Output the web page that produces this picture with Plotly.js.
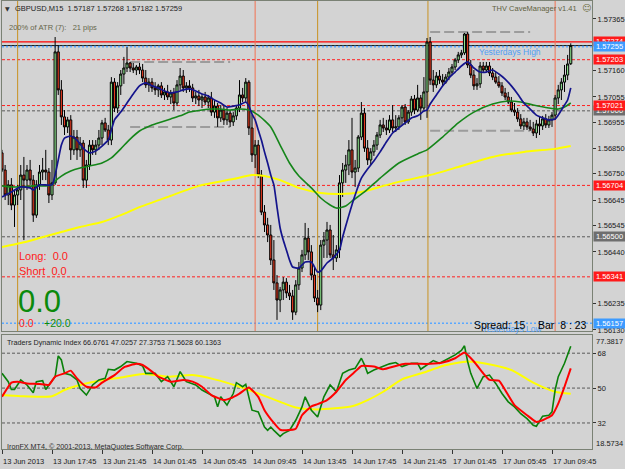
<!DOCTYPE html>
<html><head><meta charset="utf-8">
<script src="https://cdn.plot.ly/plotly-3.0.1.min.js"></script>
<style>html,body{margin:0;padding:0;background:#d3d3d3;}#chart{width:625px;height:469px;}</style>
</head><body><div id="chart"></div>
<script>
// ---------- DATA ----------
const symbol = "GBPUSD,M15";
const openP = [1.56833,1.56765,1.56666,1.56706,1.56626,1.56666,1.56686,1.56745,1.56725,1.56765,
1.56725,1.56586,1.56706,1.56757,1.56765,1.56757,1.56666,1.56714,1.57234,1.57083,
1.56976,1.56936,1.56964,1.56845,1.56896,1.56845,1.56872,1.56725,1.56785,1.56864,
1.56845,1.56864,1.56892,1.56952,1.56924,1.56884,1.57114,1.57011,1.57099,1.57146,
1.57170,1.57190,1.57170,1.57162,1.57174,1.57162,1.57130,1.57103,1.57114,1.57091,
1.57083,1.57099,1.57063,1.57075,1.57055,1.57071,1.57031,1.57103,1.57138,1.57091,
1.57099,1.57091,1.57051,1.57059,1.57043,1.57055,1.57035,1.57051,1.56995,1.57019,
1.56972,1.57003,1.56964,1.56991,1.56956,1.56980,1.57011,1.57063,1.57051,1.57114,
1.56932,1.56825,1.56864,1.56745,1.56598,1.56547,1.56507,1.56408,1.56317,1.56249,
1.56289,1.56320,1.56277,1.56265,1.56201,1.56309,1.56376,1.56428,1.56495,1.56440,
1.56348,1.56257,1.56229,1.56467,1.56487,1.56527,1.56428,1.56416,1.56448,1.56714,
1.56765,1.56785,1.56845,1.56757,1.56773,1.56896,1.56991,1.56852,1.56805,1.56837,
1.56864,1.56904,1.56944,1.56932,1.56924,1.56964,1.56932,1.56936,1.56972,1.57015,
1.56956,1.56995,1.57047,1.57003,1.57051,1.57011,1.57075,1.57273,1.57122,1.57103,
1.57138,1.57122,1.57114,1.57134,1.57154,1.57174,1.57202,1.57222,1.57230,1.57305,
1.57182,1.57142,1.57099,1.57107,1.57178,1.57162,1.57178,1.57150,1.57134,1.57114,
1.57099,1.57071,1.57055,1.57035,1.57003,1.56995,1.56968,1.56940,1.56956,1.56936,
1.56928,1.56912,1.56948,1.56940,1.56968,1.56944,1.56964,1.56983,1.57051,1.57083,
1.57114,1.57142,1.57187];
const highP = [1.56845,1.56785,1.56725,1.56733,1.56686,1.56706,1.56785,1.56817,1.56785,1.56805,
1.56745,1.56725,1.56785,1.56813,1.56845,1.56773,1.56805,1.57293,1.57261,1.57122,
1.57003,1.56976,1.56983,1.56924,1.56924,1.56896,1.56884,1.56805,1.56884,1.56884,
1.56884,1.56924,1.56964,1.56972,1.56944,1.57134,1.57130,1.57114,1.57162,1.57214,
1.57253,1.57194,1.57190,1.57182,1.57190,1.57186,1.57162,1.57130,1.57130,1.57114,
1.57107,1.57114,1.57091,1.57103,1.57083,1.57091,1.57122,1.57170,1.57162,1.57114,
1.57122,1.57107,1.57075,1.57083,1.57067,1.57075,1.57063,1.57075,1.57043,1.57031,
1.57023,1.57023,1.57011,1.57003,1.56995,1.57023,1.57122,1.57091,1.57130,1.57122,
1.56983,1.56884,1.56884,1.56765,1.56626,1.56575,1.56547,1.56487,1.56348,1.56301,
1.56340,1.56336,1.56309,1.56289,1.56328,1.56400,1.56448,1.56555,1.56535,1.56467,
1.56376,1.56289,1.56487,1.56519,1.56559,1.56547,1.56507,1.56467,1.56745,1.56793,
1.56825,1.56884,1.56972,1.56805,1.56904,1.57035,1.57011,1.56884,1.56852,1.56884,
1.56916,1.56964,1.56972,1.56964,1.56983,1.57023,1.56983,1.56983,1.57023,1.57027,
1.57003,1.57059,1.57063,1.57103,1.57063,1.57134,1.57289,1.57293,1.57162,1.57154,
1.57162,1.57146,1.57146,1.57170,1.57186,1.57210,1.57234,1.57242,1.57309,1.57313,
1.57202,1.57162,1.57130,1.57194,1.57194,1.57194,1.57194,1.57170,1.57154,1.57138,
1.57114,1.57091,1.57075,1.57055,1.57031,1.57011,1.56987,1.56972,1.56972,1.56964,
1.56956,1.56964,1.56976,1.56980,1.56987,1.56980,1.56995,1.57063,1.57103,1.57130,
1.57182,1.57222,1.57268];
const lowP = [1.56757,1.56646,1.56626,1.56606,1.56539,1.56626,1.56646,1.56487,1.56686,1.56706,
1.56559,1.56575,1.56686,1.56725,1.56725,1.56634,1.56646,1.56706,1.57063,1.56944,
1.56904,1.56912,1.56805,1.56825,1.56805,1.56817,1.56694,1.56694,1.56765,1.56825,
1.56825,1.56845,1.56864,1.56916,1.56864,1.56864,1.56995,1.56991,1.57063,1.57107,
1.57154,1.57154,1.57150,1.57142,1.57146,1.57114,1.57091,1.57075,1.57075,1.57063,
1.57055,1.57051,1.57043,1.57043,1.57027,1.57003,1.57019,1.57083,1.57075,1.57071,
1.57075,1.57035,1.57027,1.57019,1.57011,1.57023,1.57011,1.56980,1.56972,1.56936,
1.56956,1.56944,1.56944,1.56936,1.56940,1.56964,1.56995,1.57035,1.57031,1.56904,
1.56797,1.56773,1.56733,1.56586,1.56519,1.56479,1.56388,1.56289,1.56170,1.56201,
1.56249,1.56257,1.56249,1.56170,1.56189,1.56289,1.56360,1.56408,1.56408,1.56328,
1.56241,1.56201,1.56209,1.56416,1.56416,1.56416,1.56368,1.56400,1.56416,1.56658,
1.56714,1.56745,1.56733,1.56698,1.56757,1.56884,1.56837,1.56785,1.56785,1.56821,
1.56845,1.56892,1.56916,1.56904,1.56912,1.56916,1.56916,1.56924,1.56944,1.56944,
1.56948,1.56980,1.56987,1.56995,1.56964,1.57003,1.56972,1.57103,1.57075,1.57091,
1.57107,1.57099,1.57107,1.57122,1.57142,1.57162,1.57190,1.57210,1.57222,1.57170,
1.57130,1.57083,1.57083,1.57091,1.57154,1.57154,1.57138,1.57122,1.57107,1.57091,
1.57059,1.57043,1.57027,1.56995,1.56980,1.56956,1.56928,1.56924,1.56924,1.56920,
1.56900,1.56892,1.56904,1.56924,1.56932,1.56932,1.56936,1.56964,1.57027,1.57043,
1.57075,1.57122,1.57182];
const closeP = [1.56765,1.56666,1.56706,1.56626,1.56666,1.56686,1.56745,1.56725,1.56765,1.56725,
1.56586,1.56706,1.56757,1.56765,1.56757,1.56666,1.56714,1.57234,1.57083,1.56976,
1.56936,1.56964,1.56845,1.56896,1.56845,1.56872,1.56725,1.56785,1.56864,1.56845,
1.56864,1.56892,1.56952,1.56924,1.56884,1.57114,1.57011,1.57099,1.57146,1.57170,
1.57190,1.57170,1.57162,1.57174,1.57162,1.57130,1.57103,1.57114,1.57091,1.57083,
1.57099,1.57063,1.57075,1.57055,1.57071,1.57031,1.57103,1.57138,1.57091,1.57099,
1.57091,1.57051,1.57059,1.57043,1.57055,1.57035,1.57051,1.56995,1.57019,1.56972,
1.57003,1.56964,1.56991,1.56956,1.56980,1.57011,1.57063,1.57051,1.57114,1.56932,
1.56825,1.56864,1.56745,1.56598,1.56547,1.56507,1.56408,1.56317,1.56249,1.56289,
1.56320,1.56277,1.56265,1.56201,1.56309,1.56376,1.56428,1.56495,1.56440,1.56348,
1.56257,1.56229,1.56467,1.56487,1.56527,1.56428,1.56416,1.56448,1.56714,1.56765,
1.56785,1.56845,1.56757,1.56773,1.56896,1.56991,1.56852,1.56805,1.56837,1.56864,
1.56904,1.56944,1.56932,1.56924,1.56964,1.56932,1.56936,1.56972,1.57015,1.56956,
1.56995,1.57047,1.57003,1.57051,1.57011,1.57075,1.57273,1.57122,1.57103,1.57138,
1.57122,1.57114,1.57134,1.57154,1.57174,1.57202,1.57222,1.57230,1.57305,1.57182,
1.57142,1.57099,1.57107,1.57178,1.57162,1.57178,1.57150,1.57134,1.57114,1.57099,
1.57071,1.57055,1.57035,1.57003,1.56995,1.56968,1.56940,1.56956,1.56936,1.56928,
1.56912,1.56948,1.56940,1.56968,1.56944,1.56964,1.56983,1.57051,1.57083,1.57114,
1.57142,1.57186,1.57259];

// moving averages (bar index, price)
const blueIdx = [0,3,6,9,10,12,16,17,18,19,20,22,24,26,28,30,32,34,36,38,40,42,44,46,48,50,52,54,56,58,60,62,64,66,68,70,72,74,76,78,79,80,81,82,83,84,85,86,87,88,89,90,91,92,93,95,97,99,101,102,104,106,108,109,111,113,115,117,119,121,123,125,127,129,131,133,135,136,137,139,141,143,145,147,149,151,153,155,157,159,161,163,165,167,169,171,173,175,177,178,180,181,182];
const blueVal = [1.56658,1.56678,1.56698,1.56694,1.56686,1.56706,1.56706,1.56745,1.56805,1.56864,1.56892,1.56900,1.56884,1.56852,1.56833,1.56841,1.56860,1.56884,1.56964,1.56995,1.57031,1.57067,1.57099,1.57111,1.57099,1.57091,1.57079,1.57071,1.57075,1.57083,1.57087,1.57079,1.57067,1.57059,1.57043,1.57031,1.57015,1.57019,1.57023,1.57035,1.57019,1.56987,1.56964,1.56924,1.56884,1.56837,1.56793,1.56745,1.56706,1.56618,1.56535,1.56487,1.56448,1.56408,1.56380,1.56376,1.56400,1.56400,1.56360,1.56364,1.56396,1.56416,1.56448,1.56499,1.56586,1.56666,1.56733,1.56769,1.56801,1.56837,1.56876,1.56912,1.56932,1.56952,1.56972,1.56980,1.56999,1.57003,1.57027,1.57063,1.57099,1.57130,1.57154,1.57178,1.57194,1.57170,1.57154,1.57154,1.57162,1.57146,1.57126,1.57099,1.57067,1.57031,1.57007,1.56983,1.56972,1.56964,1.56968,1.56983,1.57023,1.57043,1.57091];
const greenIdx = [0,3,6,10,14,16,17,19,22,25,28,32,35,38,41,44,48,51,54,57,60,64,67,70,73,76,79,82,86,89,92,95,99,102,105,107,110,112,116,121,127,133,136,141,146,151,157,162,166,170,175,178,180,182];
const greenVal = [1.56702,1.56698,1.56698,1.56702,1.56702,1.56706,1.56721,1.56741,1.56761,1.56773,1.56781,1.56793,1.56813,1.56849,1.56888,1.56920,1.56944,1.56956,1.56968,1.56980,1.56995,1.57003,1.57007,1.57007,1.57003,1.57007,1.57003,1.56983,1.56936,1.56864,1.56793,1.56741,1.56694,1.56654,1.56626,1.56614,1.56622,1.56642,1.56678,1.56733,1.56793,1.56829,1.56845,1.56896,1.56952,1.56995,1.57027,1.57039,1.57035,1.57023,1.57011,1.57007,1.57015,1.57031];
const yellowIdx = [0,6,12,19,25,32,38,44,53,63,74,80,84,89,95,102,108,115,122,128,137,146,157,167,177,182];
const yellowVal = [1.56459,1.56475,1.56495,1.56519,1.56539,1.56559,1.56586,1.56618,1.56658,1.56702,1.56729,1.56745,1.56741,1.56725,1.56694,1.56674,1.56670,1.56678,1.56702,1.56721,1.56745,1.56777,1.56817,1.56837,1.56849,1.56860];

// Traders Dynamic Index
const tdiGreenIdx = [0,2,3,4,6,8,10,11,13,14,15,17,18,19,20,22,24,25,27,29,31,33,34,36,38,40,43,45,46,49,51,53,55,57,59,62,64,66,68,69,70,72,74,75,77,78,80,82,84,85,86,87,89,90,92,94,96,97,99,101,103,105,107,109,111,113,115,116,117,119,122,124,126,128,131,133,134,136,138,140,142,145,147,148,149,150,152,154,156,158,160,162,164,166,168,170,171,173,175,176,177,178,180,182];
const tdiGreenVal = [57.6,53.3,49.3,49.3,54.2,51.6,47.6,53.3,53.8,49.3,51.6,55.9,66.6,64.5,57.6,56.7,54.2,49.8,46.4,51.6,54.2,55,59.7,59.3,61.1,63.7,62.8,61.4,57.6,57.6,53.3,55.9,50.7,58.5,53.3,51.6,49,47.2,45.5,40.3,45.5,41.2,47.2,52.8,50.7,51.9,38.6,37.7,29.9,28.2,29.9,28.2,25.1,26.5,28.2,33.4,40.3,45.5,38.6,35.1,45.5,51.6,48.1,57.6,59.3,60.2,65.4,62,57.6,59.3,61.1,62.5,63.2,61.1,62.8,62.8,59.7,62,64.2,62.8,64.5,67.1,69.4,71.8,63.7,57.6,49.8,55.9,56.7,52.4,47.2,42.9,40.3,36.8,34.2,30.8,30.3,35.5,36,37.7,49,55.9,62.8,71.5628];
const tdiRedIdx = [0,3,5,8,12,15,17,20,22,24,27,30,32,36,39,43,45,48,50,54,58,61,64,67,71,73,76,79,82,84,87,89,91,94,96,99,101,104,107,110,113,115,119,122,126,129,133,137,141,145,148,151,154,156,159,161,164,168,171,173,176,178,180,182];
const tdiRedVal = [45.5,52.8,53.3,52.4,52.1,51.6,55.9,57.6,59,55,50.7,50.3,52.8,56.7,60.7,62.5,61.9,58.5,55.9,53.3,54.2,53.3,50.7,46.4,43.8,44.7,47.2,50.3,45.5,38.6,32,28.5,28.2,29,36,40.6,41.7,43.8,48.1,54.2,58.5,61.4,61.1,59.7,61.4,62.5,62.5,62.5,63.2,65.4,68.3,63.7,57.6,54.2,53.8,49,41.2,36,32.5,33.4,36,42,50.7,60.1363];
const tdiYellowIdx = [0,6,16,20,25,31,38,45,53,61,68,76,82,89,94,101,112,117,122,128,135,141,149,155,163,170,177,182];
const tdiYellowVal = [46.4,45.8,45.8,49,51.6,53.8,55.5,57.3,55.9,56.7,54.5,50.7,47.2,42.9,40,39,40.6,43.8,48.1,54.5,58,61.4,63.7,62.5,59.3,52.8,48.1,47.0257];
const tdiHeaderVals = ["66.6761","47.0257","27.3753","71.5628","60.1363"];
const tdiLevels = [68, 50, 32];
const tdiRange = [18.5734, 77.3817];

// axis ticks
const priceTicks = [1.57365,1.57160,1.57055,1.56955,1.56850,1.56750,1.56645,1.56545,1.56440,1.56235,1.56130];
const priceRange = [1.56126, 1.57436];
const timeTickIdx = [0,16,32,48,64,80,96,112,128,144,160,176];
const timeTickText = ["13 Jun 2013","13 Jun 17:45","13 Jun 21:45","14 Jun 01:45","14 Jun 05:45","14 Jun 09:45","14 Jun 13:45","14 Jun 17:45","14 Jun 21:45","17 Jun 01:45","17 Jun 05:45","17 Jun 09:45"];

// price levels / objects
const labelPrices = [1.57274,1.57255,1.57203,1.57000,1.57021,1.56704,1.56500,1.56341,1.56157];
const labelColors = ["#ff1a1a","#3d9bff","#ff1a1a","#6e6e6e","#ff1a1a","#ff1a1a","#6e6e6e","#ff1a1a","#3d9bff"];
const redSolidLevel = 1.57274;
const bidLevel = 1.57259;
const blueDotLevels = [1.57255, 1.56157];
const redDashLevels = [1.57203, 1.57021, 1.56704, 1.56341];
const grayDashLevels = [1.57000, 1.56500];
const sessionBoxes = [ {from:41, to:73, top:1.57194, bottom:1.56936}, {from:137, to:169, top:1.57313, bottom:1.56921} ];
const goldVLines = [5, 101, 136.3];
const orangeVLines = [81, 177];

// ---------- LAYOUT HELPERS ----------
const W=625, H=469, ML=2, MR=33, MT=1, MB=20;
const plotW = W-ML-MR, plotH = H-MT-MB;
const px = x => (x-ML)/plotW;
const py = y => (H-MB-y)/plotH;
const FONT = "Liberation Sans, Arial, sans-serif";
const nb = s => s.replace(/ /g, "\u00a0");

const bars = openP.map((_, i) => i);
const last = bars.length - 1;

const traces = [
  {type:"candlestick", x:bars, open:openP, high:highP, low:lowP, close:closeP,
   xaxis:"x", yaxis:"y", whiskerwidth:0, hoverinfo:"skip", showlegend:false,
   increasing:{line:{color:"#000000", width:1}, fillcolor:"#8ee68e"},
   decreasing:{line:{color:"#000000", width:1}, fillcolor:"#e3391f"}},
  {type:"scatter", mode:"lines", x:yellowIdx, y:yellowVal, xaxis:"x", yaxis:"y",
   line:{color:"#ffff00", width:2, shape:"spline", smoothing:0.6}, hoverinfo:"skip", showlegend:false},
  {type:"scatter", mode:"lines", x:greenIdx, y:greenVal, xaxis:"x", yaxis:"y",
   line:{color:"#15861a", width:1.6, shape:"spline", smoothing:0.6}, hoverinfo:"skip", showlegend:false},
  {type:"scatter", mode:"lines", x:blueIdx, y:blueVal, xaxis:"x", yaxis:"y",
   line:{color:"#14148c", width:1.7, shape:"spline", smoothing:0.5}, hoverinfo:"skip", showlegend:false},
  {type:"scatter", mode:"lines", x:tdiYellowIdx, y:tdiYellowVal, xaxis:"x2", yaxis:"y2",
   line:{color:"#ffff00", width:2, shape:"spline", smoothing:0.6}, hoverinfo:"skip", showlegend:false},
  {type:"scatter", mode:"lines", x:tdiGreenIdx, y:tdiGreenVal, xaxis:"x2", yaxis:"y2",
   line:{color:"#0a800a", width:1.6}, hoverinfo:"skip", showlegend:false},
  {type:"scatter", mode:"lines", x:tdiRedIdx, y:tdiRedVal, xaxis:"x2", yaxis:"y2",
   line:{color:"#ff0000", width:2, shape:"spline", smoothing:0.4}, hoverinfo:"skip", showlegend:false}
];

const shapes = [];
const hline = (lvl, color, dash, width, yref) => shapes.push({type:"line", xref:"paper", x0:0, x1:1, yref:yref||"y", y0:lvl, y1:lvl, layer:"below", line:{color:color, width:width, dash:dash}});
redDashLevels.forEach(l => hline(l, "#ff2020", "3px,2px", 1));
grayDashLevels.forEach(l => hline(l, "#5a5a5a", "3px,2px", 1));
hline(redSolidLevel, "#ff0000", "solid", 1.2);
hline(bidLevel, "#101010", "solid", 1);
blueDotLevels.forEach(l => hline(l, "#5aa8ff", "2px,2px", 1.6));
tdiLevels.forEach(l => hline(l, "#5a5a5a", "3px,2px", 1, "y2"));
sessionBoxes.forEach(b => {
  [b.top, b.bottom].forEach(v => shapes.push({type:"line", xref:"x", x0:b.from, x1:b.to, yref:"y", y0:v, y1:v, layer:"below", line:{color:"#9c9c9c", width:2, dash:"10px,4px"}}));
});
goldVLines.forEach(v => shapes.push({type:"line", xref:"x", x0:v, x1:v, yref:"y domain", y0:0, y1:1, layer:"below", line:{color:"#c89222", width:1}}));
orangeVLines.forEach(v => shapes.push({type:"line", xref:"x", x0:v, x1:v, yref:"y domain", y0:0, y1:1, layer:"below", line:{color:"#f27252", width:1}}));

const ann = [];
const txt = (x, y, text, size, color, anchor, family) => ann.push({xref:"paper", yref:"paper", x:px(x), y:py(y), text:text, showarrow:false, xanchor:anchor||"left", yanchor:"middle", font:{family:family||FONT, size:size, color:color}});
txt(3, 8, "▼", 6, "#333333", "left", "DejaVu Sans");
txt(13, 8, nb(symbol + "  " + openP[last].toFixed(5) + " " + highP[last].toFixed(5) + " " + lowP[last].toFixed(5) + " " + closeP[last].toFixed(5)), 7.5, "#1e1e1e");
txt(7, 28, nb("200% of ATR (7):   21 pips"), 7.5, "#66664a");
txt(579, 8, "THV CaveManager v1.41", 7.5, "#5f5f3f", "right");
txt(580, 8, "☺", 9, "#6b6b3b", "left", "DejaVu Sans");
txt(477, 52, "Yesterdays High", 8.5, "#4f9ef5");
txt(480, 329, "Yesterdays Low", 8.5, "#4f9ef5");
txt(472, 325, "Spread: 15", 10.5, "#000000");
txt(536, 325, nb("Bar  8 : 23"), 10.5, "#000000");
txt(17, 256, nb("Long:  0.0"), 11, "#ff1a1a");
txt(17, 271, nb("Short  0.0"), 11, "#ff1a1a");
txt(16, 301, "0.0", 31, "#0b8a0b");
txt(17, 323, "0.0", 10.5, "#ff1a1a");
txt(42, 323, "+20.0", 10.5, "#0b8a0b");
txt(5, 342, nb("Traders Dynamic Index " + tdiHeaderVals.join(" ")), 7.2, "#1e1e1e");
txt(5, 446, "IronFX MT4, © 2001-2013, MetaQuotes Software Corp.", 7.2, "#2a2a2a");
txt(594, 341, tdiRange[1].toFixed(4), 7.5, "#1a1a1a");
txt(594, 443, tdiRange[0].toFixed(4), 7.5, "#1a1a1a");
labelPrices.forEach((p, k) => ann.push({xref:"paper", yref:"y", x:1, xanchor:"left", xshift:1, y:p, yanchor:"middle",
  text:p.toFixed(5), showarrow:false, bgcolor:labelColors[k], width:30, height:8, borderpad:0.5,
  font:{family:FONT, size:7.5, color:"#ffffff"}}));

const axLine = "#7a8174";
const layout = {
  width:W, height:H, margin:{l:ML, r:MR, t:MT, b:MB, pad:0},
  paper_bgcolor:"#d3d3d3", plot_bgcolor:"#d3d3d3", showlegend:false,
  font:{family:FONT, size:7.5, color:"#1a1a1a"},
  boxgap:0.03,
  xaxis:{domain:[0,1], anchor:"y", range:[0, plotW/3.125], showgrid:false, zeroline:false, showticklabels:false, ticks:"",
         showline:true, mirror:true, linecolor:axLine, linewidth:1, rangeslider:{visible:false}, fixedrange:true},
  yaxis:{domain:[py(331),1], anchor:"x", side:"right", range:priceRange, showgrid:false, zeroline:false,
         tickvals:priceTicks, tickformat:".5f", ticks:"outside", ticklen:3, tickcolor:"#333", tickwidth:1,
         showline:true, mirror:true, linecolor:axLine, linewidth:1, tickfont:{size:7.5, color:"#1a1a1a"}},
  xaxis2:{domain:[0,1], anchor:"y2", range:[0, plotW/3.125], showgrid:false, zeroline:false,
          tickvals:timeTickIdx, ticktext:timeTickText, ticks:"outside", ticklen:4, tickcolor:"#333",
          tickangle:0, ticklabelposition:"outside right", ticklabelstandoff:5, tickfont:{size:7.5, color:"#1a1a1a"},
          showline:true, mirror:true, linecolor:axLine, linewidth:1},
  yaxis2:{domain:[0,py(335)], anchor:"x2", side:"right", range:tdiRange, showgrid:false, zeroline:false,
          tickvals:tdiLevels, ticks:"outside", ticklen:3, tickcolor:"#333",
          showline:true, mirror:true, linecolor:axLine, linewidth:1, tickfont:{size:7.5, color:"#1a1a1a"}},
  shapes:shapes, annotations:ann
};
Plotly.newPlot("chart", traces, layout, {displayModeBar:false, staticPlot:true});
</script>
</body></html>
